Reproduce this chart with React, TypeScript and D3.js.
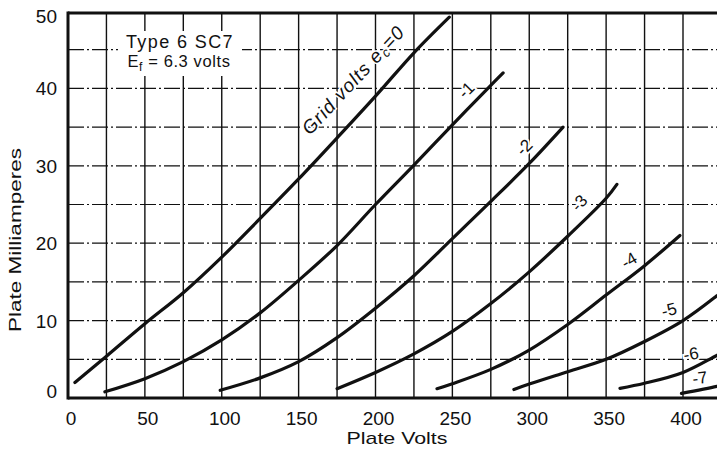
import React from "react";
import * as d3 from "d3";

// ---- data (Plate volts, Plate milliamperes) ----
const gridVolts = [0, -1, -2, -3, -4, -5, -6, -7];

const curveEc0: [number, number][] = [
  [4.5, 2.0], [25, 5.4], [50, 9.6], [75, 13.6], [100, 18.2], [125, 23.2],
  [150, 28.3], [175, 33.6], [200, 39.0], [225, 44.6], [248, 49.2],
];
const curveEc1: [number, number][] = [
  [24, 0.8], [50, 2.5], [75, 4.7], [100, 7.5], [125, 11.0], [150, 15.2],
  [175, 19.7], [200, 25.0], [225, 30.1], [250, 35.3], [275, 40.4], [283, 42.0],
];
const curveEc2: [number, number][] = [
  [99, 1.0], [125, 2.6], [150, 4.7], [175, 7.8], [200, 11.6], [225, 15.8],
  [250, 20.6], [275, 25.4], [300, 30.3], [322, 35.0],
];
const curveEc3: [number, number][] = [
  [175, 1.2], [200, 3.3], [225, 5.7], [250, 8.6], [275, 12.2], [300, 16.3],
  [325, 20.9], [350, 25.8], [357, 27.6],
];
const curveEc4: [number, number][] = [
  [240, 1.2], [250, 1.85], [275, 3.7], [300, 6.2], [325, 9.5], [350, 13.3],
  [375, 17.1], [398, 21.0],
];
const curveEc5: [number, number][] = [
  [290, 1.1], [300, 1.8], [325, 3.4], [350, 5.0], [375, 7.3], [400, 10.0],
  [422, 13.2], [430, 14.5],
];
const curveEc6: [number, number][] = [
  [359, 1.25], [375, 1.9], [400, 3.3], [422, 5.5], [430, 6.3],
];
const curveEc7: [number, number][] = [
  [399, 0.6], [422, 1.5], [430, 1.9],
];
const curves = [curveEc0, curveEc1, curveEc2, curveEc3, curveEc4, curveEc5, curveEc6, curveEc7];

const xTicks = [0, 50, 100, 150, 200, 250, 300, 350, 400];
const yTicks = [0, 10, 20, 30, 40, 50];
const xGrid = d3.range(25, 426, 25);
const yGrid = d3.range(5, 50, 5);

const titleLine1 = "Type 6 SC7";
const xTitle = "Plate Volts";
const yTitle = "Plate Milliamperes";

// label anchors in data space (layout)
const labelLayout = [
  { v: 258.9, ma: 39.8, rot: -45 },
  { v: 296.6, ma: 32.4, rot: -45 },
  { v: 332.4, ma: 25.2, rot: -48 },
  { v: 364.9, ma: 17.8, rot: -30 },
  { v: 390.9, ma: 11.4, rot: -15 },
  { v: 405.2, ma: 5.7, rot: -10 },
  { v: 411.0, ma: 2.6, rot: -8 },
];

const W = 717;
const H = 450;
const FONT = "'Liberation Sans', Arial, sans-serif";

export default function App() {
  const x = d3.scaleLinear().domain([0, 400]).range([68, 683]);
  const y = d3.scaleLinear().domain([0, 50]).range([398, 11]);
  const line = d3
    .line<[number, number]>()
    .x((d) => x(d[0]))
    .y((d) => y(d[1]))
    .curve(d3.curveCatmullRom.alpha(0.5));

  const top = 13;
  const ink = "#111";

  return (
    <svg
      width={W}
      height={H}
      style={{ position: "fixed", left: 0, top: 0, background: "#fff" }}
      fontFamily={FONT}
    >
      <rect x={0} y={0} width={W} height={H} fill="#fff" />
      {/* vertical grid */}
      {xGrid.map((v) => (
        <line key={"vx" + v} x1={x(v)} x2={x(v)} y1={top} y2={y(0)} stroke={ink} strokeWidth={1.4} />
      ))}
      {/* horizontal grid */}
      {yGrid.map((v) => (
        <line
          key={"hy" + v}
          x1={x(0)}
          x2={W}
          y1={y(v)}
          y2={y(v)}
          stroke={ink}
          strokeWidth={1.2}
          strokeDasharray="16,3,2,3"
        />
      ))}
      {/* title box */}
      <rect x={118} y={31} width={124} height={45} fill="#fff" />
      <text x={180} y={48} textAnchor="middle" fontSize={18} letterSpacing={1.4} fill={ink}>
        {titleLine1}
      </text>
      <text x={179} y={67} textAnchor="middle" fontSize={16.5} letterSpacing={0.6} fill={ink}>
        E<tspan fontSize={12} dy={4}>f</tspan>
        <tspan dy={-4}> = 6.3 volts</tspan>
      </text>

      {/* curve labels (white halo behind text interrupts the grid) */}
      <text
        transform={`translate(310,136) rotate(-47)`}
        fontSize={19}
        fontStyle="italic"
        letterSpacing={1.1}
        fill={ink}
        stroke="#fff"
        strokeWidth={3}
        paintOrder="stroke"
      >
        Grid volts e<tspan fontSize={13} dy={3}>c</tspan>
        <tspan dy={-3}>={gridVolts[0]}</tspan>
      </text>
      {labelLayout.map((l, i) => (
        <text
          key={"l" + i}
          transform={`translate(${x(l.v)},${y(l.ma)}) rotate(${l.rot})`}
          textAnchor="middle"
          dy="0.35em"
          fontSize={17}
          fill={ink}
          stroke="#fff"
          strokeWidth={4}
          paintOrder="stroke"
        >
          {"-" + Math.abs(gridVolts[i + 1])}
        </text>
      ))}

      {/* curves */}
      {curves.map((c, i) => (
        <path
          key={"c" + gridVolts[i]}
          d={line(c) || ""}
          fill="none"
          stroke={ink}
          strokeWidth={3.2}
          strokeLinecap="round"
        />
      ))}

      {/* axes frame */}
      <line x1={x(0)} x2={x(0)} y1={top - 1.5} y2={y(0) + 1.5} stroke={ink} strokeWidth={3} />
      <line x1={x(0)} x2={W} y1={top} y2={top} stroke={ink} strokeWidth={3} />
      <line x1={x(0)} x2={W} y1={y(0)} y2={y(0)} stroke={ink} strokeWidth={3} />

      {/* tick labels */}
      {yTicks.map((v) => (
        <text
          key={"yt" + v}
          x={57}
          y={Math.min(Math.max(y(v) + 7, 23), 398)}
          textAnchor="end"
          fontSize={19}
          fill={ink}
        >
          {v}
        </text>
      ))}
      {xTicks.map((v) => (
        <text key={"xt" + v} x={x(v) + 3} y={425} textAnchor="middle" fontSize={19} fill={ink}>
          {v}
        </text>
      ))}

      {/* axis titles */}
      <text
        x={397}
        y={444}
        textAnchor="middle"
        fontSize={17}
        textLength={101}
        lengthAdjust="spacingAndGlyphs"
        fill={ink}
      >
        {xTitle}
      </text>
      <text
        transform="translate(21,240) rotate(-90)"
        textAnchor="middle"
        fontSize={17}
        textLength={184}
        lengthAdjust="spacingAndGlyphs"
        fill={ink}
      >
        {yTitle}
      </text>
    </svg>
  );
}
